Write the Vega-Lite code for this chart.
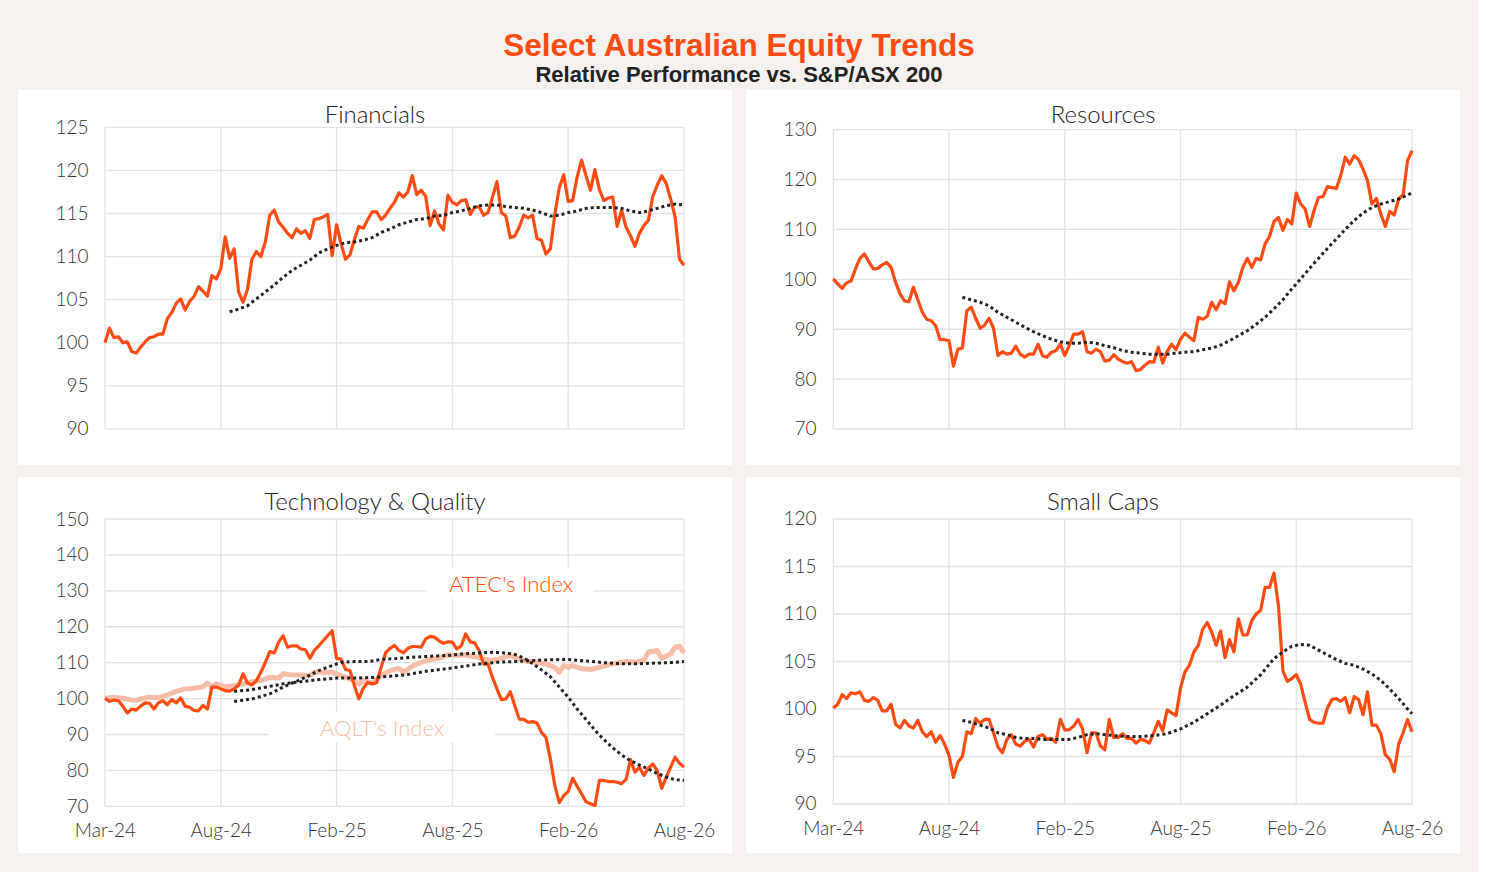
{
"$schema": "https://vega.github.io/schema/vega-lite/v6.json",
"background": "#f5f1ee",
"padding": {"left": 18, "top": 30, "right": 18, "bottom": 19},
"title": {"text": "Select Australian Equity Trends", "subtitle": "Relative Performance vs. S&P/ASX 200", "anchor": "middle", "font": "Liberation Sans", "fontSize": 31.5, "fontWeight": "bold", "color": "#fc4c13", "subtitleFont": "Liberation Sans", "subtitleFontSize": 22, "subtitleFontWeight": "bold", "subtitleColor": "#222222", "subtitlePadding": 3, "offset": 4},
"config": {
  "view": {"stroke": null, "fill": "white"},
  "axis": {"ticks": false, "domain": false, "grid": false, "labelFont": "Lato", "labelFontWeight": 300, "labelFontSize": 19, "labelColor": "#333333", "labelOverlap": false, "labelBound": false, "labelFlush": false},
  "line": {"strokeJoin": "round"}
},
"datasets": {
"main": [
{"w":0,"f":100.0,"r":100.1,"t":100.1,"s":100.1},
{"w":1,"f":101.7,"r":99.1,"t":99.2,"s":100.5},
{"w":2,"f":100.6,"r":98.2,"t":99.6,"s":101.5},
{"w":3,"f":100.7,"r":99.3,"t":99.4,"s":101.1},
{"w":4,"f":100.0,"r":99.7,"t":97.9,"s":101.7},
{"w":5,"f":100.1,"r":102.1,"t":96.0,"s":101.6},
{"w":6,"f":99.0,"r":104.2,"t":97.1,"s":101.8},
{"w":7,"f":98.8,"r":105.1,"t":96.8,"s":100.9},
{"w":8,"f":99.5,"r":103.5,"t":97.9,"s":100.8},
{"w":9,"f":100.1,"r":102.1,"t":98.8,"s":101.2},
{"w":10,"f":100.6,"r":102.2,"t":98.7,"s":100.9},
{"w":11,"f":100.7,"r":102.9,"t":97.1,"s":99.8},
{"w":12,"f":101.0,"r":103.4,"t":98.8,"s":99.8},
{"w":13,"f":101.0,"r":102.4,"t":99.4,"s":100.5},
{"w":14,"f":102.8,"r":99.4,"t":98.3,"s":98.4},
{"w":15,"f":103.5,"r":97.1,"t":99.7,"s":98.0},
{"w":16,"f":104.6,"r":95.7,"t":98.8,"s":98.8},
{"w":17,"f":105.1,"r":95.5,"t":100.2,"s":98.2},
{"w":18,"f":103.8,"r":98.4,"t":97.9,"s":98.0},
{"w":19,"f":104.8,"r":95.9,"t":97.6,"s":98.8},
{"w":20,"f":105.4,"r":93.4,"t":96.7,"s":97.6},
{"w":21,"f":106.5,"r":92.0,"t":96.6,"s":97.1},
{"w":22,"f":106.0,"r":91.7,"t":98.1,"s":97.6},
{"w":23,"f":105.4,"r":90.7,"t":97.1,"s":96.5},
{"w":24,"f":107.8,"r":87.9,"t":103.2,"s":97.2},
{"w":25,"f":107.4,"r":87.9,"t":103.2,"s":96.3},
{"w":26,"f":108.6,"r":87.7,"t":102.7,"s":95.1},
{"w":27,"f":112.3,"r":82.6,"t":102.2,"s":92.8},
{"w":28,"f":109.8,"r":86.0,"t":102.1,"s":94.4},
{"w":29,"f":110.9,"r":86.2,"t":102.7,"s":95.0},
{"w":30,"f":105.9,"r":93.7,"t":103.8,"s":97.6},
{"w":31,"f":104.7,"r":94.4,"t":106.9,"s":97.4},
{"w":32,"f":106.2,"r":92.2,"t":104.3,"s":99.0},
{"w":33,"f":109.7,"r":90.2,"t":103.8,"s":98.5},
{"w":34,"f":110.6,"r":90.8,"t":105.0,"s":98.9},
{"w":35,"f":110.0,"r":92.2,"t":107.3,"s":98.9},
{"w":36,"f":111.7,"r":90.2,"t":110.1,"s":97.5},
{"w":37,"f":114.8,"r":84.7,"t":113.1,"s":96.0},
{"w":38,"f":115.4,"r":85.5,"t":112.7,"s":95.4},
{"w":39,"f":114.0,"r":85.0,"t":115.7,"s":96.8},
{"w":40,"f":113.4,"r":85.2,"t":117.5,"s":97.3},
{"w":41,"f":112.7,"r":86.6,"t":114.3,"s":96.3},
{"w":42,"f":112.2,"r":85.0,"t":114.7,"s":96.1},
{"w":43,"f":113.2,"r":84.4,"t":114.7,"s":96.6},
{"w":44,"f":112.7,"r":85.0,"t":113.8,"s":96.8},
{"w":45,"f":113.0,"r":85.0,"t":113.6,"s":96.0},
{"w":46,"f":112.1,"r":87.0,"t":111.2,"s":97.1},
{"w":47,"f":114.3,"r":84.7,"t":113.4,"s":97.3},
{"w":48,"f":114.4,"r":84.4,"t":114.7,"s":96.8},
{"w":49,"f":114.6,"r":85.4,"t":116.1,"s":96.9},
{"w":50,"f":114.9,"r":85.7,"t":117.5,"s":96.5},
{"w":51,"f":110.1,"r":87.0,"t":118.9,"s":98.9},
{"w":52,"f":113.7,"r":84.7,"t":111.2,"s":97.8},
{"w":53,"f":111.5,"r":86.7,"t":111.0,"s":97.8},
{"w":54,"f":109.7,"r":89.0,"t":108.1,"s":98.2},
{"w":55,"f":110.2,"r":89.0,"t":107.8,"s":98.9},
{"w":56,"f":112.0,"r":89.5,"t":103.6,"s":97.9},
{"w":57,"f":113.5,"r":85.5,"t":99.9,"s":95.4},
{"w":58,"f":113.3,"r":85.2,"t":102.9,"s":97.5},
{"w":59,"f":114.3,"r":86.0,"t":104.5,"s":97.5},
{"w":60,"f":115.2,"r":85.5,"t":104.1,"s":96.1},
{"w":61,"f":115.2,"r":83.6,"t":104.4,"s":95.7},
{"w":62,"f":114.3,"r":83.8,"t":108.7,"s":98.9},
{"w":63,"f":114.8,"r":84.9,"t":112.7,"s":97.0},
{"w":64,"f":115.6,"r":84.0,"t":114.0,"s":97.0},
{"w":65,"f":116.3,"r":83.5,"t":114.8,"s":97.4},
{"w":66,"f":117.4,"r":83.2,"t":113.4,"s":96.9},
{"w":67,"f":116.9,"r":83.5,"t":112.7,"s":96.9},
{"w":68,"f":117.5,"r":81.7,"t":114.0,"s":96.4},
{"w":69,"f":119.4,"r":81.9,"t":114.5,"s":96.8},
{"w":70,"f":117.2,"r":82.8,"t":114.5,"s":96.7},
{"w":71,"f":117.7,"r":83.5,"t":114.3,"s":96.4},
{"w":72,"f":117.0,"r":83.4,"t":116.6,"s":97.5},
{"w":73,"f":113.6,"r":86.4,"t":117.3,"s":98.7},
{"w":74,"f":115.3,"r":83.2,"t":117.1,"s":97.7},
{"w":75,"f":113.8,"r":85.5,"t":116.1,"s":99.9},
{"w":76,"f":113.1,"r":87.0,"t":115.4,"s":99.6},
{"w":77,"f":117.1,"r":85.9,"t":115.8,"s":99.3},
{"w":78,"f":116.3,"r":88.0,"t":115.7,"s":102.2},
{"w":79,"f":116.0,"r":89.2,"t":113.8,"s":103.9},
{"w":80,"f":116.5,"r":88.4,"t":114.7,"s":104.6},
{"w":81,"f":116.6,"r":87.7,"t":118.0,"s":106.0},
{"w":82,"f":114.9,"r":92.4,"t":115.8,"s":106.7},
{"w":83,"f":115.7,"r":92.0,"t":115.5,"s":108.4},
{"w":84,"f":115.8,"r":92.6,"t":113.4,"s":109.1},
{"w":85,"f":114.8,"r":95.4,"t":109.6,"s":108.1},
{"w":86,"f":115.1,"r":93.9,"t":109.6,"s":106.7},
{"w":87,"f":116.9,"r":95.7,"t":105.9,"s":108.2},
{"w":88,"f":118.7,"r":95.1,"t":102.7,"s":105.4},
{"w":89,"f":115.1,"r":99.5,"t":99.7,"s":107.3},
{"w":90,"f":114.7,"r":97.7,"t":99.9,"s":106.0},
{"w":91,"f":112.2,"r":99.4,"t":101.9,"s":109.5},
{"w":92,"f":112.4,"r":102.4,"t":98.1,"s":107.8},
{"w":93,"f":113.4,"r":104.2,"t":94.3,"s":107.8},
{"w":94,"f":114.8,"r":102.4,"t":94.2,"s":109.3},
{"w":95,"f":114.5,"r":104.2,"t":93.4,"s":110.0},
{"w":96,"f":114.8,"r":103.9,"t":93.6,"s":110.4},
{"w":97,"f":112.1,"r":107.1,"t":93.2,"s":112.8},
{"w":98,"f":111.9,"r":108.6,"t":90.6,"s":112.8},
{"w":99,"f":110.3,"r":111.6,"t":89.2,"s":114.3},
{"w":100,"f":110.9,"r":112.4,"t":83.2,"s":110.9},
{"w":101,"f":114.9,"r":109.8,"t":75.8,"s":104.0},
{"w":102,"f":118.0,"r":112.0,"t":71.0,"s":102.9},
{"w":103,"f":119.5,"r":111.1,"t":73.0,"s":103.2},
{"w":104,"f":116.4,"r":117.3,"t":74.1,"s":103.6},
{"w":105,"f":116.5,"r":115.1,"t":77.8,"s":102.6},
{"w":106,"f":119.2,"r":114.1,"t":75.6,"s":100.7},
{"w":107,"f":121.2,"r":110.6,"t":73.5,"s":98.9},
{"w":108,"f":119.4,"r":113.8,"t":71.3,"s":98.6},
{"w":109,"f":117.7,"r":116.4,"t":70.7,"s":98.5},
{"w":110,"f":120.1,"r":116.6,"t":70.2,"s":98.5},
{"w":111,"f":117.8,"r":118.6,"t":77.2,"s":100.1},
{"w":112,"f":116.5,"r":118.4,"t":77.2,"s":101.0},
{"w":113,"f":116.8,"r":118.2,"t":76.9,"s":101.1},
{"w":114,"f":116.9,"r":120.8,"t":76.9,"s":100.8},
{"w":115,"f":113.5,"r":124.5,"t":76.7,"s":101.2},
{"w":116,"f":115.4,"r":123.1,"t":76.3,"s":99.6},
{"w":117,"f":113.4,"r":124.8,"t":77.5,"s":101.3},
{"w":118,"f":112.4,"r":124.0,"t":83.0,"s":101.0},
{"w":119,"f":111.2,"r":122.1,"t":79.5,"s":99.4},
{"w":120,"f":112.7,"r":119.8,"t":80.9,"s":101.8},
{"w":121,"f":113.6,"r":115.1,"t":78.6,"s":98.3},
{"w":122,"f":114.2,"r":116.2,"t":80.6,"s":98.3},
{"w":123,"f":117.0,"r":113.1,"t":81.8,"s":97.4},
{"w":124,"f":118.3,"r":110.6,"t":79.9,"s":95.2},
{"w":125,"f":119.4,"r":113.6,"t":75.0,"s":94.7},
{"w":126,"f":118.5,"r":112.9,"t":78.1,"s":93.4},
{"w":127,"f":116.7,"r":116.1,"t":80.9,"s":96.3},
{"w":128,"f":114.6,"r":116.9,"t":83.7,"s":97.5},
{"w":129,"f":109.7,"r":123.8,"t":82.0,"s":98.9},
{"w":130,"f":109.0,"r":125.8,"t":80.9,"s":97.6}
],
"sampled": [
{"k":"fm","w":28,"v":103.6},{"k":"fm","w":30,"v":103.9},{"k":"fm","w":32,"v":104.3},{"k":"fm","w":34,"v":105.1},{"k":"fm","w":36,"v":105.9},{"k":"fm","w":38,"v":106.7},{"k":"fm","w":40,"v":107.6},{"k":"fm","w":42,"v":108.4},{"k":"fm","w":44,"v":109.0},{"k":"fm","w":46,"v":109.6},{"k":"fm","w":48,"v":110.4},{"k":"fm","w":50,"v":110.9},{"k":"fm","w":52,"v":111.3},{"k":"fm","w":54,"v":111.6},{"k":"fm","w":56,"v":111.7},{"k":"fm","w":58,"v":111.9},{"k":"fm","w":60,"v":112.2},{"k":"fm","w":62,"v":112.8},{"k":"fm","w":64,"v":113.2},{"k":"fm","w":66,"v":113.7},{"k":"fm","w":68,"v":114.0},{"k":"fm","w":70,"v":114.3},{"k":"fm","w":72,"v":114.4},{"k":"fm","w":74,"v":114.7},{"k":"fm","w":76,"v":114.8},{"k":"fm","w":78,"v":115.1},{"k":"fm","w":80,"v":115.3},{"k":"fm","w":82,"v":115.6},{"k":"fm","w":84,"v":115.9},{"k":"fm","w":86,"v":116.0},{"k":"fm","w":88,"v":116.0},{"k":"fm","w":90,"v":115.8},{"k":"fm","w":92,"v":115.7},{"k":"fm","w":94,"v":115.6},{"k":"fm","w":96,"v":115.4},{"k":"fm","w":98,"v":115.1},{"k":"fm","w":100,"v":114.7},{"k":"fm","w":102,"v":114.8},{"k":"fm","w":104,"v":115.1},{"k":"fm","w":106,"v":115.3},{"k":"fm","w":108,"v":115.6},{"k":"fm","w":110,"v":115.7},{"k":"fm","w":112,"v":115.7},{"k":"fm","w":114,"v":115.7},{"k":"fm","w":116,"v":115.6},{"k":"fm","w":118,"v":115.3},{"k":"fm","w":120,"v":115.1},{"k":"fm","w":122,"v":115.3},{"k":"fm","w":124,"v":115.6},{"k":"fm","w":126,"v":115.9},{"k":"fm","w":128,"v":116.1},{"k":"fm","w":130,"v":116.0},
{"k":"rm","w":29,"v":96.4},{"k":"rm","w":31,"v":95.9},{"k":"rm","w":33,"v":95.4},{"k":"rm","w":35,"v":94.7},{"k":"rm","w":37,"v":93.4},{"k":"rm","w":39,"v":92.4},{"k":"rm","w":41,"v":91.4},{"k":"rm","w":43,"v":90.4},{"k":"rm","w":45,"v":89.5},{"k":"rm","w":47,"v":88.7},{"k":"rm","w":49,"v":88.0},{"k":"rm","w":51,"v":87.5},{"k":"rm","w":53,"v":87.2},{"k":"rm","w":55,"v":87.2},{"k":"rm","w":57,"v":87.4},{"k":"rm","w":59,"v":87.2},{"k":"rm","w":61,"v":86.7},{"k":"rm","w":63,"v":86.3},{"k":"rm","w":65,"v":85.7},{"k":"rm","w":67,"v":85.4},{"k":"rm","w":69,"v":85.2},{"k":"rm","w":71,"v":85.0},{"k":"rm","w":73,"v":85.0},{"k":"rm","w":75,"v":85.0},{"k":"rm","w":77,"v":85.2},{"k":"rm","w":79,"v":85.4},{"k":"rm","w":81,"v":85.5},{"k":"rm","w":83,"v":85.9},{"k":"rm","w":85,"v":86.2},{"k":"rm","w":87,"v":86.8},{"k":"rm","w":89,"v":87.7},{"k":"rm","w":91,"v":88.7},{"k":"rm","w":93,"v":89.7},{"k":"rm","w":95,"v":91.0},{"k":"rm","w":97,"v":92.4},{"k":"rm","w":99,"v":94.1},{"k":"rm","w":101,"v":95.9},{"k":"rm","w":103,"v":98.1},{"k":"rm","w":105,"v":100.1},{"k":"rm","w":107,"v":102.2},{"k":"rm","w":109,"v":104.2},{"k":"rm","w":111,"v":106.2},{"k":"rm","w":113,"v":108.1},{"k":"rm","w":115,"v":110.0},{"k":"rm","w":117,"v":111.8},{"k":"rm","w":119,"v":113.3},{"k":"rm","w":121,"v":114.4},{"k":"rm","w":123,"v":115.1},{"k":"rm","w":125,"v":115.6},{"k":"rm","w":127,"v":116.1},{"k":"rm","w":129,"v":116.9},{"k":"rm","w":130,"v":117.3},
{"k":"tm","w":29,"v":99.2},{"k":"tm","w":33,"v":99.9},{"k":"tm","w":37,"v":101.3},{"k":"tm","w":40,"v":103.2},{"k":"tm","w":42,"v":104.3},{"k":"tm","w":45,"v":105.9},{"k":"tm","w":48,"v":107.8},{"k":"tm","w":51,"v":109.2},{"k":"tm","w":53,"v":110.1},{"k":"tm","w":56,"v":110.3},{"k":"tm","w":59,"v":110.3},{"k":"tm","w":62,"v":110.9},{"k":"tm","w":66,"v":111.2},{"k":"tm","w":69,"v":111.5},{"k":"tm","w":73,"v":111.8},{"k":"tm","w":77,"v":112.0},{"k":"tm","w":80,"v":112.4},{"k":"tm","w":84,"v":112.7},{"k":"tm","w":87,"v":112.9},{"k":"tm","w":90,"v":112.7},{"k":"tm","w":92,"v":112.3},{"k":"tm","w":94,"v":111.3},{"k":"tm","w":96,"v":109.8},{"k":"tm","w":98,"v":108.0},{"k":"tm","w":100,"v":106.1},{"k":"tm","w":102,"v":103.2},{"k":"tm","w":104,"v":100.4},{"k":"tm","w":106,"v":97.1},{"k":"tm","w":108,"v":94.2},{"k":"tm","w":110,"v":91.2},{"k":"tm","w":112,"v":88.6},{"k":"tm","w":114,"v":86.3},{"k":"tm","w":116,"v":84.3},{"k":"tm","w":118,"v":82.7},{"k":"tm","w":120,"v":81.5},{"k":"tm","w":122,"v":80.4},{"k":"tm","w":124,"v":79.1},{"k":"tm","w":126,"v":78.2},{"k":"tm","w":128,"v":77.4},{"k":"tm","w":130,"v":77.2},
{"k":"am","w":29,"v":102.0},{"k":"am","w":33,"v":102.5},{"k":"am","w":37,"v":103.4},{"k":"am","w":40,"v":104.1},{"k":"am","w":44,"v":104.7},{"k":"am","w":48,"v":105.3},{"k":"am","w":52,"v":105.7},{"k":"am","w":56,"v":105.7},{"k":"am","w":60,"v":105.9},{"k":"am","w":64,"v":106.2},{"k":"am","w":68,"v":106.7},{"k":"am","w":72,"v":107.6},{"k":"am","w":76,"v":108.2},{"k":"am","w":80,"v":108.9},{"k":"am","w":84,"v":109.6},{"k":"am","w":88,"v":110.1},{"k":"am","w":92,"v":110.3},{"k":"am","w":96,"v":110.6},{"k":"am","w":100,"v":110.8},{"k":"am","w":104,"v":110.9},{"k":"am","w":108,"v":110.5},{"k":"am","w":112,"v":110.0},{"k":"am","w":116,"v":109.7},{"k":"am","w":120,"v":109.7},{"k":"am","w":124,"v":109.9},{"k":"am","w":128,"v":110.1},{"k":"am","w":130,"v":110.3},
{"k":"a","w":0,"v":100.1},{"k":"a","w":2,"v":100.4},{"k":"a","w":4,"v":100.1},{"k":"a","w":6,"v":99.6},{"k":"a","w":7,"v":99.5},{"k":"a","w":8,"v":99.9},{"k":"a","w":10,"v":100.4},{"k":"a","w":12,"v":100.2},{"k":"a","w":14,"v":101.0},{"k":"a","w":16,"v":102.0},{"k":"a","w":18,"v":102.7},{"k":"a","w":20,"v":102.9},{"k":"a","w":22,"v":103.3},{"k":"a","w":23,"v":104.3},{"k":"a","w":24,"v":103.3},{"k":"a","w":25,"v":104.1},{"k":"a","w":27,"v":103.3},{"k":"a","w":29,"v":103.6},{"k":"a","w":31,"v":104.1},{"k":"a","w":33,"v":104.7},{"k":"a","w":35,"v":105.0},{"k":"a","w":37,"v":105.9},{"k":"a","w":39,"v":105.7},{"k":"a","w":40,"v":106.9},{"k":"a","w":42,"v":106.6},{"k":"a","w":44,"v":106.6},{"k":"a","w":46,"v":106.4},{"k":"a","w":47,"v":107.3},{"k":"a","w":49,"v":107.3},{"k":"a","w":51,"v":107.3},{"k":"a","w":53,"v":106.4},{"k":"a","w":55,"v":105.5},{"k":"a","w":57,"v":104.1},{"k":"a","w":58,"v":105.0},{"k":"a","w":60,"v":104.3},{"k":"a","w":62,"v":106.4},{"k":"a","w":64,"v":107.8},{"k":"a","w":66,"v":108.4},{"k":"a","w":67,"v":107.3},{"k":"a","w":69,"v":109.0},{"k":"a","w":71,"v":110.1},{"k":"a","w":73,"v":110.9},{"k":"a","w":75,"v":111.2},{"k":"a","w":77,"v":112.2},{"k":"a","w":79,"v":112.0},{"k":"a","w":81,"v":112.2},{"k":"a","w":83,"v":111.6},{"k":"a","w":85,"v":111.0},{"k":"a","w":87,"v":110.6},{"k":"a","w":89,"v":111.2},{"k":"a","w":91,"v":112.0},{"k":"a","w":93,"v":111.0},{"k":"a","w":95,"v":110.3},{"k":"a","w":97,"v":110.1},{"k":"a","w":99,"v":109.6},{"k":"a","w":101,"v":108.7},{"k":"a","w":102,"v":107.3},{"k":"a","w":103,"v":109.2},{"k":"a","w":104,"v":108.7},{"k":"a","w":105,"v":109.2},{"k":"a","w":107,"v":108.3},{"k":"a","w":109,"v":108.1},{"k":"a","w":111,"v":108.7},{"k":"a","w":113,"v":109.4},{"k":"a","w":115,"v":109.9},{"k":"a","w":117,"v":110.3},{"k":"a","w":119,"v":110.1},{"k":"a","w":121,"v":110.6},{"k":"a","w":122,"v":112.9},{"k":"a","w":124,"v":113.4},{"k":"a","w":125,"v":111.2},{"k":"a","w":127,"v":112.4},{"k":"a","w":128,"v":114.3},{"k":"a","w":129,"v":114.6},{"k":"a","w":130,"v":112.7},
{"k":"sm","w":29,"v":98.8},{"k":"sm","w":31,"v":98.6},{"k":"sm","w":33,"v":98.3},{"k":"sm","w":35,"v":98.0},{"k":"sm","w":37,"v":97.5},{"k":"sm","w":39,"v":97.3},{"k":"sm","w":41,"v":97.0},{"k":"sm","w":43,"v":96.9},{"k":"sm","w":45,"v":96.9},{"k":"sm","w":47,"v":96.8},{"k":"sm","w":49,"v":96.8},{"k":"sm","w":51,"v":96.8},{"k":"sm","w":53,"v":96.8},{"k":"sm","w":55,"v":97.0},{"k":"sm","w":57,"v":97.3},{"k":"sm","w":59,"v":97.4},{"k":"sm","w":61,"v":97.3},{"k":"sm","w":63,"v":97.2},{"k":"sm","w":66,"v":97.1},{"k":"sm","w":69,"v":97.1},{"k":"sm","w":72,"v":97.2},{"k":"sm","w":75,"v":97.4},{"k":"sm","w":78,"v":97.9},{"k":"sm","w":81,"v":98.6},{"k":"sm","w":84,"v":99.5},{"k":"sm","w":87,"v":100.4},{"k":"sm","w":90,"v":101.4},{"k":"sm","w":93,"v":102.3},{"k":"sm","w":96,"v":103.6},{"k":"sm","w":99,"v":105.3},{"k":"sm","w":101,"v":106.0},{"k":"sm","w":103,"v":106.6},{"k":"sm","w":105,"v":106.8},{"k":"sm","w":107,"v":106.7},{"k":"sm","w":109,"v":106.2},{"k":"sm","w":111,"v":105.7},{"k":"sm","w":113,"v":105.2},{"k":"sm","w":115,"v":104.8},{"k":"sm","w":117,"v":104.6},{"k":"sm","w":119,"v":104.2},{"k":"sm","w":121,"v":103.7},{"k":"sm","w":123,"v":103.0},{"k":"sm","w":125,"v":102.1},{"k":"sm","w":127,"v":101.1},{"k":"sm","w":129,"v":100.0},{"k":"sm","w":130,"v":99.5}
],
"weeks": [{"w":0},{"w":26},{"w":52},{"w":78},{"w":104},{"w":130}]
},
"spacing": 12,
"vconcat": [
{"spacing": 14, "hconcat": [
{"width": 714, "height": 375,
 "title": {"text": "Financials", "font": "Lato", "fontWeight": 300, "fontSize": 24, "color": "#222222", "anchor": "middle", "offset": -38},
 "layer": [
  {"data": {"name": "weeks"}, "mark": {"type": "rule", "color": "#e2e2e2", "strokeWidth": 1.3},
   "encoding": {"x": {"field": "w", "type": "quantitative", "title": null, "scale": {"domain": [-19.53, 140.78], "nice": false, "zero": false}, "axis": null},
     "y": {"datum": 90, "type": "quantitative"}, "y2": {"datum": 125}}},
  {"data": {"values": [{"v":90},{"v":95},{"v":100},{"v":105},{"v":110},{"v":115},{"v":120},{"v":125}]},
   "mark": {"type": "rule", "color": "#e2e2e2", "strokeWidth": 1.3},
   "encoding": {"y": {"field": "v", "type": "quantitative", "title": null, "scale": {"domain": [85.82, 129.33], "nice": false, "zero": false}, "axis": {"values": [90,95,100,105,110,115,120,125], "offset": -87, "labelPadding": 17}},
     "x": {"datum": 0.001, "type": "quantitative"}, "x2": {"datum": 130}}},
  {"data": {"name": "main"}, "mark": {"type": "line", "color": "#fc4c13", "strokeWidth": 3.2},
   "encoding": {"x": {"field": "w", "type": "quantitative", "title": null}, "y": {"field": "f", "type": "quantitative", "title": null}}},
  {"data": {"name": "sampled"}, "transform": [{"filter": "datum.k == 'fm'"}], "mark": {"type": "line", "color": "#222222", "strokeWidth": 3, "strokeDash": [3, 3]},
   "encoding": {"x": {"field": "w", "type": "quantitative", "title": null}, "y": {"field": "v", "type": "quantitative", "title": null}}}
 ]},
{"width": 714, "height": 375,
 "title": {"text": "Resources", "font": "Lato", "fontWeight": 300, "fontSize": 24, "color": "#222222", "anchor": "middle", "offset": -38},
 "layer": [
  {"data": {"name": "weeks"}, "mark": {"type": "rule", "color": "#e2e2e2", "strokeWidth": 1.3},
   "encoding": {"x": {"field": "w", "type": "quantitative", "title": null, "scale": {"domain": [-19.6, 140.78], "nice": false, "zero": false}, "axis": null},
     "y": {"datum": 70, "type": "quantitative"}, "y2": {"datum": 130}}},
  {"data": {"values": [{"v":70},{"v":80},{"v":90},{"v":100},{"v":110},{"v":120},{"v":130}]},
   "mark": {"type": "rule", "color": "#e2e2e2", "strokeWidth": 1.3},
   "encoding": {"y": {"field": "v", "type": "quantitative", "title": null, "scale": {"domain": [62.78, 137.96], "nice": false, "zero": false}, "axis": {"values": [70,80,90,100,110,120,130], "offset": -87, "labelPadding": 17}},
     "x": {"datum": 0.001, "type": "quantitative"}, "x2": {"datum": 130}}},
  {"data": {"name": "main"}, "mark": {"type": "line", "color": "#fc4c13", "strokeWidth": 3.2},
   "encoding": {"x": {"field": "w", "type": "quantitative", "title": null}, "y": {"field": "r", "type": "quantitative", "title": null}}},
  {"data": {"name": "sampled"}, "transform": [{"filter": "datum.k == 'rm'"}], "mark": {"type": "line", "color": "#222222", "strokeWidth": 3, "strokeDash": [3, 3]},
   "encoding": {"x": {"field": "w", "type": "quantitative", "title": null}, "y": {"field": "v", "type": "quantitative", "title": null}}}
 ]}
]},
{"spacing": 14, "hconcat": [
{"width": 714, "height": 376,
 "title": {"text": "Technology & Quality", "font": "Lato", "fontWeight": 300, "fontSize": 24, "color": "#222222", "anchor": "middle", "offset": -38},
 "layer": [
  {"data": {"name": "weeks"}, "mark": {"type": "rule", "color": "#e2e2e2", "strokeWidth": 1.3},
   "encoding": {"x": {"field": "w", "type": "quantitative", "title": null, "scale": {"domain": [-19.53, 140.78], "nice": false, "zero": false},
     "axis": {"values": [0,26,52,78,104,130], "labelExpr": "['Mar-24','Aug-24','Feb-25','Aug-25','Feb-26','Aug-26'][round(datum.value/26)]", "offset": -46.7, "labelPadding": 15}},
     "y": {"datum": 70, "type": "quantitative"}, "y2": {"datum": 150}}},
  {"data": {"values": [{"v":70},{"v":80},{"v":90},{"v":100},{"v":110},{"v":120},{"v":130},{"v":140},{"v":150}]},
   "mark": {"type": "rule", "color": "#e2e2e2", "strokeWidth": 1.3},
   "encoding": {"y": {"field": "v", "type": "quantitative", "title": null, "scale": {"domain": [57.0, 161.7], "nice": false, "zero": false}, "axis": {"values": [70,80,90,100,110,120,130,140,150], "offset": -87, "labelPadding": 17}},
     "x": {"datum": 0.001, "type": "quantitative"}, "x2": {"datum": 130}}},
  {"data": {"values": [{"label": "ATEC's Index"}]}, "mark": {"type": "rect", "fill": "white"},
   "encoding": {"x": {"datum": 72.3, "type": "quantitative"}, "x2": {"datum": 109.6}, "y": {"datum": 127.7, "type": "quantitative"}, "y2": {"datum": 136.6}}},
  {"data": {"values": [{"label": "AQLT's Index"}]}, "mark": {"type": "rect", "fill": "white"},
   "encoding": {"x": {"datum": 36.6, "type": "quantitative"}, "x2": {"datum": 87.6}, "y": {"datum": 87.9, "type": "quantitative"}, "y2": {"datum": 96.3}}},
  {"data": {"values": [{"label": "ATEC's Index"}]}, "mark": {"type": "text", "font": "Lato", "fontWeight": 300, "fontSize": 22, "color": "#fc4c13"},
   "encoding": {"text": {"field": "label"}, "x": {"datum": 91.2, "type": "quantitative"}, "y": {"datum": 131.6, "type": "quantitative"}}},
  {"data": {"values": [{"label": "AQLT's Index"}]}, "mark": {"type": "text", "font": "Lato", "fontWeight": 300, "fontSize": 22, "color": "#f8bda8"},
   "encoding": {"text": {"field": "label"}, "x": {"datum": 62.2, "type": "quantitative"}, "y": {"datum": 91.4, "type": "quantitative"}}},
  {"data": {"name": "sampled"}, "transform": [{"filter": "datum.k == 'a'"}], "mark": {"type": "line", "color": "#f8bda8", "strokeWidth": 5},
   "encoding": {"x": {"field": "w", "type": "quantitative", "title": null}, "y": {"field": "v", "type": "quantitative", "title": null}}},
  {"data": {"name": "main"}, "mark": {"type": "line", "color": "#fc4c13", "strokeWidth": 3.2},
   "encoding": {"x": {"field": "w", "type": "quantitative", "title": null}, "y": {"field": "t", "type": "quantitative", "title": null}}},
  {"data": {"name": "sampled"}, "transform": [{"filter": "datum.k == 'tm'"}], "mark": {"type": "line", "color": "#222222", "strokeWidth": 3, "strokeDash": [3, 3]},
   "encoding": {"x": {"field": "w", "type": "quantitative", "title": null}, "y": {"field": "v", "type": "quantitative", "title": null}}},
  {"data": {"name": "sampled"}, "transform": [{"filter": "datum.k == 'am'"}], "mark": {"type": "line", "color": "#222222", "strokeWidth": 3, "strokeDash": [3, 3]},
   "encoding": {"x": {"field": "w", "type": "quantitative", "title": null}, "y": {"field": "v", "type": "quantitative", "title": null}}}
 ]},
{"width": 714, "height": 376,
 "title": {"text": "Small Caps", "font": "Lato", "fontWeight": 300, "fontSize": 24, "color": "#222222", "anchor": "middle", "offset": -38},
 "layer": [
  {"data": {"name": "weeks"}, "mark": {"type": "rule", "color": "#e2e2e2", "strokeWidth": 1.3},
   "encoding": {"x": {"field": "w", "type": "quantitative", "title": null, "scale": {"domain": [-19.6, 140.78], "nice": false, "zero": false},
     "axis": {"values": [0,26,52,78,104,130], "labelExpr": "['Mar-24','Aug-24','Feb-25','Aug-25','Feb-26','Aug-26'][round(datum.value/26)]", "offset": -49, "labelPadding": 15}},
     "y": {"datum": 90, "type": "quantitative"}, "y2": {"datum": 120}}},
  {"data": {"values": [{"v":90},{"v":95},{"v":100},{"v":105},{"v":110},{"v":115},{"v":120}]},
   "mark": {"type": "rule", "color": "#e2e2e2", "strokeWidth": 1.3},
   "encoding": {"y": {"field": "v", "type": "quantitative", "title": null, "scale": {"domain": [84.84, 124.42], "nice": false, "zero": false}, "axis": {"values": [90,95,100,105,110,115,120], "offset": -87, "labelPadding": 17}},
     "x": {"datum": 0.001, "type": "quantitative"}, "x2": {"datum": 130}}},
  {"data": {"name": "main"}, "mark": {"type": "line", "color": "#fc4c13", "strokeWidth": 3.2},
   "encoding": {"x": {"field": "w", "type": "quantitative", "title": null}, "y": {"field": "s", "type": "quantitative", "title": null}}},
  {"data": {"name": "sampled"}, "transform": [{"filter": "datum.k == 'sm'"}], "mark": {"type": "line", "color": "#222222", "strokeWidth": 3, "strokeDash": [3, 3]},
   "encoding": {"x": {"field": "w", "type": "quantitative", "title": null}, "y": {"field": "v", "type": "quantitative", "title": null}}}
 ]}
]}
]
}
